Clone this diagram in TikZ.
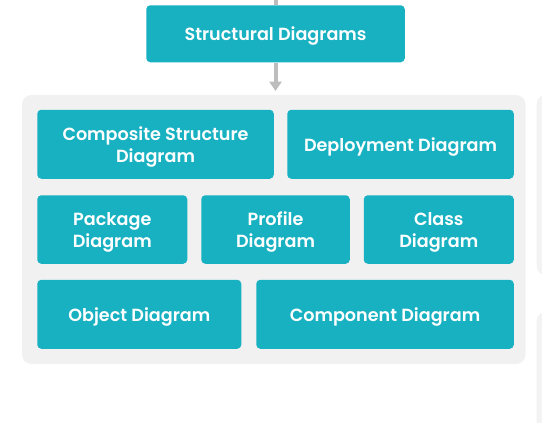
\documentclass[tikz,border=0pt]{standalone}
\usepackage{fontspec}
\setmainfont{Poppins}[UprightFont=* SemiBold]
\usetikzlibrary{arrows.meta}
\definecolor{tealbox}{HTML}{17B1C1}
\definecolor{panelgray}{HTML}{F1F1F1}
\definecolor{sidegray}{HTML}{F3F3F3}
\definecolor{linkgray}{HTML}{BDBDBD}
\tikzset{
  diagbox/.style={fill=tealbox, rounded corners=3bp, inner sep=0pt, align=center,
    text=white, text depth=0pt, font=\fontsize{13.2}{16.5}\selectfont},
  panel/.style={fill=panelgray, rounded corners=7bp},
  sidepanel/.style={fill=sidegray, draw=panelgray, rounded corners=7bp},
  link/.style={draw=linkgray, line width=3bp, -{Triangle[width=9bp,length=7bp]}},
}
\begin{document}
\begin{tikzpicture}[x=0.75pt, y=-0.75pt]
\useasboundingbox (0,0) rectangle (542,423);
\begin{scope}
\clip (0,0) rectangle (542,423);
% neighbouring panels at the right edge
\path[sidepanel] (537,95) rectangle (600,275);
\path[sidepanel] (537,312) rectangle (600,460);
\end{scope}
% group of structural diagram kinds
\path[panel] (22,95) rectangle (525.5,364);
% top box
\node[diagbox, minimum width=258.5*0.75pt, minimum height=57*0.75pt, anchor=north west] (sd) at (146,5) {Structural Diagrams};
\coordinate (in) at (sd.north |- 0,-2);
\coordinate (grp) at (sd.south |- 0,91);
\draw[draw=linkgray, line width=3bp] (in) -- (sd.north);
\draw[link] (sd.south) -- (grp);
% row 1
\node[diagbox, minimum width=236.5*0.75pt, minimum height=69*0.75pt, anchor=north west] (comp) at (37,109.5) {Composite Structure\\Diagram};
\node[diagbox, minimum width=226.5*0.75pt, minimum height=69*0.75pt, anchor=north west] (dep) at (287,109.5) {Deployment Diagram};
% row 2
\node[diagbox, minimum width=150*0.75pt, minimum height=68.5*0.75pt, anchor=north west] (pkg) at (37,195) {Package\\Diagram};
\node[diagbox, minimum width=148.5*0.75pt, minimum height=68.5*0.75pt, anchor=north west] (prof) at (201,195) {Profile\\Diagram};
\node[diagbox, minimum width=150*0.75pt, minimum height=68.5*0.75pt, anchor=north west] (cls) at (363.5,195) {Class\\Diagram};
% row 3
\node[diagbox, minimum width=204*0.75pt, minimum height=69*0.75pt, anchor=north west] (obj) at (37,279.5) {Object Diagram};
\node[diagbox, minimum width=257.5*0.75pt, minimum height=69*0.75pt, anchor=north west] (cmp) at (256,279.5) {Component Diagram};
\end{tikzpicture}
\end{document}
